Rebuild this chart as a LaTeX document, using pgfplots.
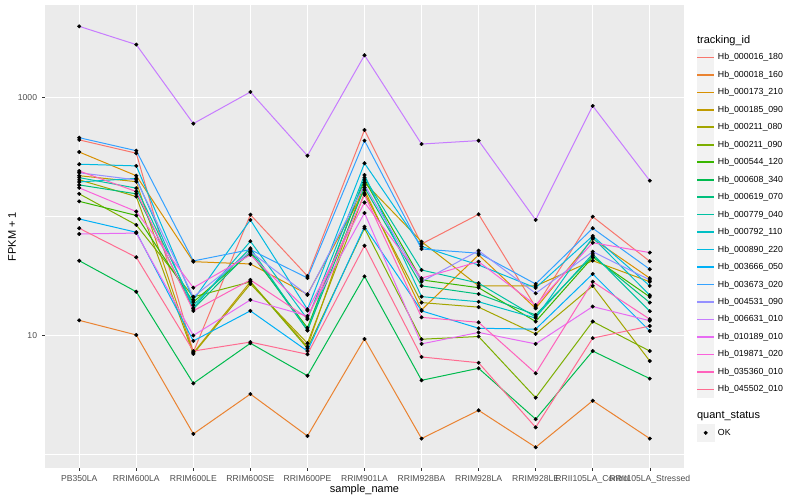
\documentclass[border=0pt]{standalone}
\usepackage{fontspec}
\setmainfont{Liberation Sans}
\usepackage{pgfplots}
\usepackage{pgfplotstable}
\pgfplotsset{compat=1.18}

\definecolor{panelbg}{HTML}{EBEBEB}
\definecolor{keybg}{HTML}{F2F2F2}
\definecolor{grey30}{HTML}{4D4D4D}
\definecolor{grey20}{HTML}{333333}
% ggplot hue palette, 20 levels
\definecolor{c01}{HTML}{F8766D}
\definecolor{c02}{HTML}{EA8331}
\definecolor{c03}{HTML}{D89000}
\definecolor{c04}{HTML}{C09B00}
\definecolor{c05}{HTML}{A3A500}
\definecolor{c06}{HTML}{7CAE00}
\definecolor{c07}{HTML}{39B600}
\definecolor{c08}{HTML}{00BB4E}
\definecolor{c09}{HTML}{00BF7D}
\definecolor{c10}{HTML}{00C1A3}
\definecolor{c11}{HTML}{00BFC4}
\definecolor{c12}{HTML}{00BAE0}
\definecolor{c13}{HTML}{00B0F6}
\definecolor{c14}{HTML}{35A2FF}
\definecolor{c15}{HTML}{9590FF}
\definecolor{c16}{HTML}{C77CFF}
\definecolor{c17}{HTML}{E76BF3}
\definecolor{c18}{HTML}{FA62DB}
\definecolor{c19}{HTML}{FF62BC}
\definecolor{c20}{HTML}{FF6C91}

% FPKM + 1, one column per tracking_id, one row per sample
\pgfplotstableread{
x  s01   s02  s03  s04  s05  s06  s07  s08  s09  s10  s11  s12  s13  s14  s15  s16  s17  s18  s19  s20
0  440   13.4 348  220  203  155  134  42.5 184  212  195  275  95.3 459  233  3960 71.3 174  241  79.6
1  340   10.1 220  196  147  84.9 102  23.3 155  173  209  266  73.7 357  203  2780 72.5 110  162  45.4
2  7.26  1.49 41.7 7.13 7.0  21.1 19.1 3.96 16.7 18.0 17.0 19.9 9.0  42.3 21.1 603  10.0 25.2 16.1 7.4
3  103.5 3.22 39.9 28.3 27.1 28.2 49.4 8.6  51.3 54.0 61.9 93.5 16.1 52.7 50.6 1112 19.9 47.5 29.3 8.8
4  31.6  1.43 22.2 8.05 8.6  7.8  11.6 4.59 11.0 11.1 13.7 16.6 7.4  30.4 21.9 324  14.6 16.2 14.0 6.95
5  533   9.35 167  193  157  79.6 203  31.4 175  212  223  280  82.1 434  184  2264 107  131  152  56.8
6  58.7  1.36 16.4 61.4 18.9 9.3  29.3 4.2  26.1 35.5 21.2 56.0 16.1 53.3 28.3 406  8.5  30.3 14.2 6.6
7  104.3 2.35 47.5 26.1 17.3 9.8  25.2 5.3  22.3 27.5 19.2 39.1 11.5 49.1 51.6 434  10.6 41.7 12.9 5.9
8  17.3  1.15 16.9 26.1 10.3 3.0  13.1 1.98 14.9 14.3 14.0 25.1 11.3 27.1 22.6 93.5 8.5  18.0 4.81 1.69
9  99.6  2.83 65.0 42.5 26.1 13.1 45.4 7.4  46.6 48.4 66.6 68.6 32.9 79.6 50.6 849  17.5 60.2 28.3 9.5
10 42.0  1.36 30.3 28.3 6.1  7.4  21.1 4.34 18.9 16.0 21.8 26.1 10.9 36.0 29.3 200  13.3 49.7 13.7 12.0
}\fpkm

\begin{document}
\begin{tikzpicture}
\useasboundingbox (0,0) rectangle (800pt,500pt);
\begin{axis}[
    at={(45pt,32pt)}, anchor=south west,
    scale only axis, width=639pt, height=463pt,
    xmin=-0.6, xmax=10.6,
    ymode=log, ymin=0.77, ymax=5985,
    xtick={0,...,10},
    xticklabels={PB350LA,RRIM600LA,RRIM600LE,RRIM600SE,RRIM600PE,RRIM901LA,RRIM928BA,RRIM928LA,RRIM928LE,RRII105LA\_Control,RRII105LA\_Stressed},
    ytick={10,1000}, yticklabels={10,1000},
    minor ytick={1,100},
    grid=both,
    major grid style={white, line width=1.1pt},
    minor grid style={white, line width=0.55pt},
    axis background/.style={fill=panelbg},
    axis line style={draw=none},
    xtick pos=bottom, ytick pos=left,
    tick align=outside,
    major tick length=2.75pt,
    minor tick length=0pt,
    tick style={grey20, line width=0.5pt},
    ticklabel style={font=\fontsize{8.6}{10}\selectfont, text=grey30, inner sep=0pt},
    xticklabel style={anchor=north, yshift=-4.5pt},
    yticklabel style={anchor=east, xshift=-5pt},
    /pgf/number format/assume math mode=true,
    xlabel={sample\_name}, ylabel={FPKM + 1},
    every axis x label/.style={at={(axis description cs:0.5,-0.0475)}, anchor=center},
    every axis y label/.style={at={(axis description cs:-0.0516,0.5)}, anchor=center, rotate=90},
    label style={font=\fontsize{11}{13}\selectfont},
    legend style={at={(axis description cs:1.0203,0.9431)}, anchor=north west,
        draw=none, fill=none, inner sep=0pt, outer sep=0pt,
        row sep=0pt, column sep=3.5pt,
        font=\fontsize{8.8}{10}\selectfont,
        nodes={inner sep=0pt, outer sep=0pt}},
    legend cell align=left,
    legend image code/.code={
        \path[draw=none, fill=none] (0pt,-8.64pt) rectangle (17.28pt,8.64pt);
        \fill[keybg] (0.4pt,-8.24pt) rectangle (16.88pt,8.24pt);
        \fill[#1, draw=none] (0.4pt,-0.8pt) rectangle (16.88pt,0.8pt);
    },
]
\addlegendimage{legend image code/.code={
    \path[draw=none, fill=none] (0pt,-8.64pt) rectangle (17.28pt,8.64pt);
    \node[overlay, anchor=west, inner sep=0pt, text=black, font=\fontsize{11}{13}\selectfont] at (0pt,0pt) {tracking\_id};}}
\addlegendentry{}

\addplot[c01, line width=1pt] table[x=x, y=s01] {\fpkm}; \addlegendentry{Hb\_000016\_180}
\addplot[c02, line width=1pt] table[x=x, y=s02] {\fpkm}; \addlegendentry{Hb\_000018\_160}
\addplot[c03, line width=1pt] table[x=x, y=s03] {\fpkm}; \addlegendentry{Hb\_000173\_210}
\addplot[c04, line width=1pt] table[x=x, y=s04] {\fpkm}; \addlegendentry{Hb\_000185\_090}
\addplot[c05, line width=1pt] table[x=x, y=s05] {\fpkm}; \addlegendentry{Hb\_000211\_080}
\addplot[c06, line width=1pt] table[x=x, y=s06] {\fpkm}; \addlegendentry{Hb\_000211\_090}
\addplot[c07, line width=1pt] table[x=x, y=s07] {\fpkm}; \addlegendentry{Hb\_000544\_120}
\addplot[c08, line width=1pt] table[x=x, y=s08] {\fpkm}; \addlegendentry{Hb\_000608\_340}
\addplot[c09, line width=1pt] table[x=x, y=s09] {\fpkm}; \addlegendentry{Hb\_000619\_070}
\addplot[c10, line width=1pt] table[x=x, y=s10] {\fpkm}; \addlegendentry{Hb\_000779\_040}
\addplot[c11, line width=1pt] table[x=x, y=s11] {\fpkm}; \addlegendentry{Hb\_000792\_110}
\addplot[c12, line width=1pt] table[x=x, y=s12] {\fpkm}; \addlegendentry{Hb\_000890\_220}
\addplot[c13, line width=1pt] table[x=x, y=s13] {\fpkm}; \addlegendentry{Hb\_003666\_050}
\addplot[c14, line width=1pt] table[x=x, y=s14] {\fpkm}; \addlegendentry{Hb\_003673\_020}
\addplot[c15, line width=1pt] table[x=x, y=s15] {\fpkm}; \addlegendentry{Hb\_004531\_090}
\addplot[c16, line width=1pt] table[x=x, y=s16] {\fpkm}; \addlegendentry{Hb\_006631\_010}
\addplot[c17, line width=1pt] table[x=x, y=s17] {\fpkm}; \addlegendentry{Hb\_010189\_010}
\addplot[c18, line width=1pt] table[x=x, y=s18] {\fpkm}; \addlegendentry{Hb\_019871\_020}
\addplot[c19, line width=1pt] table[x=x, y=s19] {\fpkm}; \addlegendentry{Hb\_035360\_010}
\addplot[c20, line width=1pt] table[x=x, y=s20] {\fpkm}; \addlegendentry{Hb\_045502\_010}

% black points on top, all quant_status = OK
\pgfplotsinvokeforeach{01,02,03,04,05,06,07,08,09,10,11,12,13,14,15,16,17,18,19,20}{
    \addplot[only marks, mark=*, mark size=1.8pt, black, forget plot] table[x=x, y=s#1] {\fpkm};
}

\addlegendimage{legend image code/.code={
    \path[draw=none, fill=none] (0pt,-8.64pt) rectangle (17.28pt,17.36pt);
    \node[overlay, anchor=west, inner sep=0pt, text=black, font=\fontsize{11}{13}\selectfont] at (0pt,0pt) {quant\_status};}}
\addlegendentry{}
\addlegendimage{legend image code/.code={
    \path[draw=none, fill=none] (0pt,-8.64pt) rectangle (17.28pt,8.64pt);
    \fill[keybg] (0.4pt,-8.24pt) rectangle (16.88pt,8.24pt);
    \fill[black] (8.64pt,0pt) circle (1.8pt);}}
\addlegendentry{OK}
\end{axis}
\end{tikzpicture}
\end{document}
